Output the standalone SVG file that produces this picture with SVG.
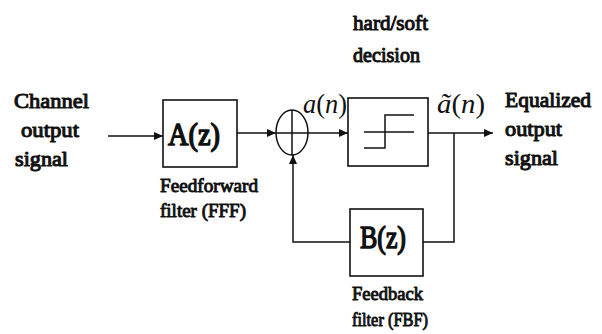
<svg xmlns="http://www.w3.org/2000/svg" width="602" height="334" viewBox="0 0 602 334">
<style>
text{font-family:'Liberation Serif','Times New Roman',serif;fill:#111;}
.lbl{font-weight:400;stroke:#111;stroke-width:1.1;stroke-linejoin:round;}
.big{font-size:22px;}
.sm{font-size:19px;stroke-width:0.95;}
.blk{font-size:31px;stroke-width:1.5;}
.math{font-size:27px;font-weight:400;}
.it{font-style:italic;}
.box{fill:#fff;stroke:#111;stroke-width:1.6;}
.ln{fill:none;stroke:#111;stroke-width:1.5;}
</style>
<defs>
<marker id="ah" markerWidth="9" markerHeight="8" refX="9" refY="4" orient="auto" markerUnits="userSpaceOnUse">
<path d="M0,0 L9,4 L0,8 Z" fill="#111"/>
</marker>
</defs>
<rect width="602" height="334" fill="#fff"/>
<g id="connectors">
<line class="ln" x1="108" y1="136" x2="163" y2="136" marker-end="url(#ah)"/>
<line class="ln" x1="237" y1="133" x2="276" y2="133" marker-end="url(#ah)"/>
<line class="ln" x1="308" y1="133" x2="348" y2="133" marker-end="url(#ah)"/>
<line class="ln" x1="428" y1="133" x2="493" y2="133" marker-end="url(#ah)"/>
<polyline class="ln" points="454,133 454,242 423,242"/>
<polyline class="ln" points="350,242 293,242 293,155" marker-end="url(#ah)"/>
</g>
<g id="input">
<text class="lbl big" x="14" y="108" textLength="75" lengthAdjust="spacingAndGlyphs">Channel</text>
<text class="lbl big" x="21" y="137" textLength="58" lengthAdjust="spacingAndGlyphs">output</text>
<text class="lbl big" x="15" y="166" textLength="53" lengthAdjust="spacingAndGlyphs">signal</text>
</g>
<g id="fff">
<rect class="box" x="163" y="100" width="74" height="67"/>
<text class="lbl blk" x="168" y="145" textLength="52" lengthAdjust="spacingAndGlyphs">A(z)</text>
<text class="lbl sm" x="160" y="192" textLength="98" lengthAdjust="spacingAndGlyphs">Feedforward</text>
<text class="lbl sm" x="160" y="217" textLength="86" lengthAdjust="spacingAndGlyphs">filter (FFF)</text>
</g>
<g id="sum">
<ellipse class="ln" cx="292" cy="132.5" rx="16" ry="22.5"/>
<line class="ln" x1="276" y1="133" x2="308" y2="133"/>
<line class="ln" x1="292" y1="110" x2="292" y2="155"/>
<text class="math" x="303" y="113" textLength="44" lengthAdjust="spacingAndGlyphs"><tspan class="it">a</tspan>(<tspan class="it">n</tspan>)</text>
</g>
<g id="decision">
<text class="lbl big" x="353" y="30" textLength="75" lengthAdjust="spacingAndGlyphs">hard/soft</text>
<text class="lbl big" x="353" y="62" textLength="67" lengthAdjust="spacingAndGlyphs">decision</text>
<rect class="box" x="348" y="98" width="80" height="68"/>
<polyline class="ln" points="364,148 385,148 385,115 414,115"/>
<line class="ln" x1="364" y1="132" x2="414" y2="132"/>
<text class="math" x="437" y="113" textLength="48" lengthAdjust="spacingAndGlyphs"><tspan class="it">ã</tspan>(<tspan class="it">n</tspan>)</text>
</g>
<g id="fbf">
<rect class="box" x="350" y="209" width="73" height="67"/>
<text class="lbl blk" x="360" y="248" textLength="46" lengthAdjust="spacingAndGlyphs">B(z)</text>
<text class="lbl sm" x="352" y="300" textLength="71" lengthAdjust="spacingAndGlyphs">Feedback</text>
<text class="lbl sm" x="352" y="326" textLength="76" lengthAdjust="spacingAndGlyphs">filter (FBF)</text>
</g>
<g id="output">
<text class="lbl big" x="505" y="107" textLength="86" lengthAdjust="spacingAndGlyphs">Equalized</text>
<text class="lbl big" x="505" y="136" textLength="57" lengthAdjust="spacingAndGlyphs">output</text>
<text class="lbl big" x="505" y="165" textLength="53" lengthAdjust="spacingAndGlyphs">signal</text>
</g>
</svg>
